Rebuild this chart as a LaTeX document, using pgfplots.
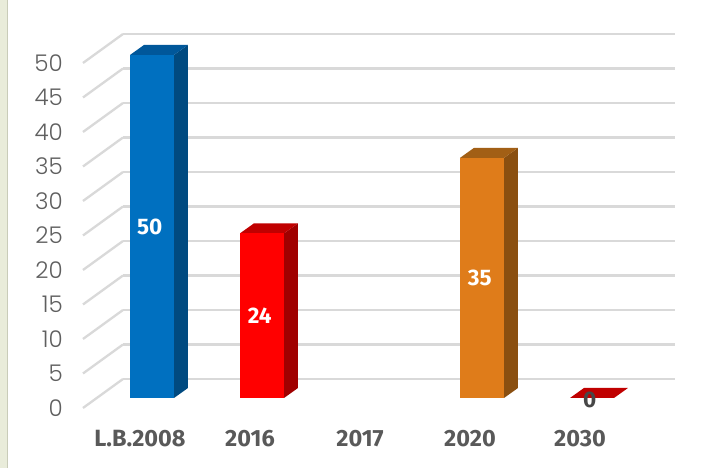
\documentclass[border=0pt]{standalone}
\usepackage{pgfplots}
\pgfplotsset{compat=1.18}
\usepackage{fontspec}
\setmainfont{Fira Sans}
\newfontfamily\ylight{Poppins Light}
\definecolor{gridc}{HTML}{D9D9D9}
\definecolor{tickc}{HTML}{5F5F5F}
\definecolor{labc}{HTML}{595959}
\definecolor{strip}{HTML}{E9ECDA}
\definecolor{stripline}{HTML}{C9CCB9}
\definecolor{blueF}{HTML}{0070C0}
\definecolor{blueS}{HTML}{004A80}
\definecolor{blueT}{HTML}{00579A}
\definecolor{redF}{HTML}{FF0000}
\definecolor{redS}{HTML}{A00000}
\definecolor{redT}{HTML}{C00000}
\definecolor{orF}{HTML}{DF7C1A}
\definecolor{orS}{HTML}{8A4F10}
\definecolor{orT}{HTML}{A25F15}
\definecolor{zeroT}{HTML}{C00000}
\begin{document}
\begin{tikzpicture}
\path[use as bounding box] (0pt,0pt) rectangle (710pt,468pt);
\fill[white] (0pt,0pt) rectangle (710pt,468pt);
\fill[strip] (0pt,0pt) rectangle (7pt,468pt);
\draw[stripline, line width=1pt] (7.5pt,0pt) -- (7.5pt,468pt);
% back wall with gridlines
\begin{axis}[at={(123pt,89pt)}, anchor=south west, scale only axis,
  width=552pt, height=345pt, xmin=123, xmax=675, ymin=0, ymax=50,
  axis line style={draw=none}, xtick=\empty, ytick={0,5,...,50},
  major tick length=0pt, ymajorgrids, grid style={gridc, line width=2.3pt},
  clip=false,
  /pgf/number format/assume math mode=true,
  yticklabel style={font=\ylight\fontsize{23}{23}\selectfont, text=tickc,
    inner sep=0pt, anchor=east, xshift=-60pt, yshift=-29pt}]
\pgfplotsinvokeforeach{0,5,10,15,20,25,30,35,40,45,50}{
  \draw[gridc, line width=2.3pt] (axis cs:83,{#1-4.2}) -- (axis cs:123,#1);
}
\end{axis}
% bars
\begin{axis}[at={(97pt,70pt)}, anchor=south west, scale only axis,
  width=550pt, height=343pt, xmin=-0.5, xmax=4.5, ymin=0, ymax=50,
  axis line style={draw=none}, ytick=\empty, xtick={0,1,2,3,4},
  xticklabels={L.B.2008,2016,2017,2020,2030},
  major tick length=0pt, clip=false,
  xticklabel style={font=\bfseries\fontsize{23.5}{23.5}\selectfont, text=labc,
    inner sep=0pt, anchor=north, xshift=-12pt, yshift=-32pt}]
% L.B.2008 = 50
\addplot[fill=blueS, draw=none] coordinates {(0.2,0) (0.327,1.46) (0.327,51.46) (0.2,50)} -- cycle;
\addplot[fill=blueT, draw=none] coordinates {(-0.2,50) (0.2,50) (0.327,51.46) (-0.073,51.46)} -- cycle;
\addplot[ybar, bar width=0.4, bar shift=0pt, fill=blueF, draw=none] coordinates {(0,50)};
% 2016 = 24
\addplot[fill=redS, draw=none] coordinates {(1.2,0) (1.327,1.46) (1.327,25.46) (1.2,24)} -- cycle;
\addplot[fill=redT, draw=none] coordinates {(0.8,24) (1.2,24) (1.327,25.46) (0.927,25.46)} -- cycle;
\addplot[ybar, bar width=0.4, bar shift=0pt, fill=redF, draw=none] coordinates {(1,24)};
% 2020 = 35
\addplot[fill=orS, draw=none] coordinates {(3.2,0) (3.327,1.46) (3.327,36.46) (3.2,35)} -- cycle;
\addplot[fill=orT, draw=none] coordinates {(2.8,35) (3.2,35) (3.327,36.46) (2.927,36.46)} -- cycle;
\addplot[ybar, bar width=0.4, bar shift=0pt, fill=orF, draw=none] coordinates {(3,35)};
% 2030 = 0
\addplot[fill=zeroT, draw=none] coordinates {(3.8,0) (4.2,0) (4.327,1.46) (3.927,1.46)} -- cycle;
% value labels
\addplot[draw=none, mark=none, nodes near coords, point meta=explicit symbolic,
  every node near coord/.append style={anchor=center, text=white, inner sep=0pt,
    font=\bfseries\fontsize{22.5}{22.5}\selectfont}]
  coordinates {(-0.02,25) [50] (0.98,12) [24] (2.98,17.5) [35]};
\addplot[draw=none, mark=none, nodes near coords, point meta=explicit symbolic,
  every node near coord/.append style={anchor=center, text=labc!80!black, inner sep=0pt,
    font=\bfseries\fontsize{22.5}{22.5}\selectfont}]
  coordinates {(3.98,-0.3) [0]};
\end{axis}
\end{tikzpicture}
\end{document}
